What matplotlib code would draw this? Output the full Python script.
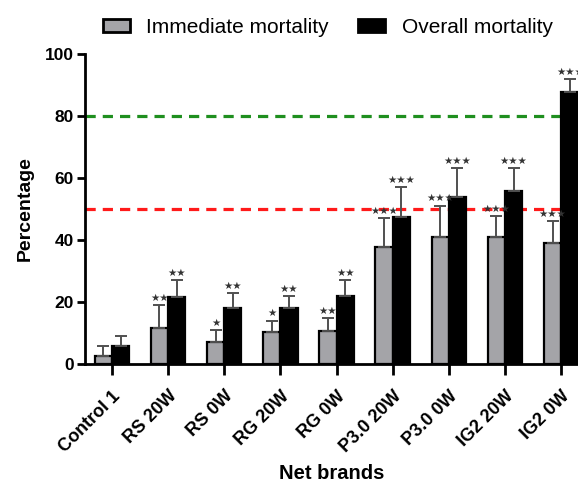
import matplotlib
matplotlib.use("Agg")
import matplotlib.pyplot as plt
import numpy as np
from matplotlib.patches import Patch

categories = ["Control 1", "RS 20W", "RS 0W", "RG 20W", "RG 0W",
              "P3.0 20W", "P3.0 0W", "IG2 20W", "IG2 0W"]
immediate = [2.6, 11.5, 7.2, 10.3, 10.5, 37.8, 40.9, 40.9, 38.9]
immediate_err = [3.3, 7.5, 3.7, 3.7, 4.4, 9.3, 10.2, 6.9, 7.2]
overall = [5.9, 21.7, 18.0, 18.0, 22.0, 47.3, 53.8, 55.7, 87.6]
overall_err = [3.1, 5.4, 5.0, 4.0, 5.1, 9.9, 9.3, 7.4, 4.4]
immediate_sig = ["", "**", "*", "*", "**", "***", "***", "***", "***"]
overall_sig = ["", "**", "**", "**", "**", "***", "***", "***", "***"]
thresholds = [80, 50]

plt.rcParams['font.family'] = ['Liberation Sans', 'DejaVu Sans']

fig = plt.figure(figsize=(5.78, 4.86), dpi=100)
ax = fig.add_axes([85/578, (486-364)/486, 1-85/578, 310/486])

x = np.arange(len(categories))
w = 0.307
gray = '#a4a4a8'

ax.axhline(thresholds[0], color='#1f8f1f', lw=2.3, ls=(0, (3.2, 2.2)), zorder=1)
ax.axhline(thresholds[1], color='#ff1a1a', lw=2.3, ls=(0, (3.2, 2.2)), zorder=1)

ax.bar(x - w/2, immediate, w, color=gray, edgecolor='black', linewidth=1.6, zorder=2)
ax.bar(x + w/2, overall, w, color='black', edgecolor='black', linewidth=1.6, zorder=2)

ax.errorbar(x - w/2, immediate, yerr=[np.zeros(len(x)), immediate_err], fmt='none',
            ecolor='#505050', elinewidth=1.4, capsize=4.5, capthick=1.4, zorder=3)
ax.errorbar(x + w/2, overall, yerr=[np.zeros(len(x)), overall_err], fmt='none',
            ecolor='#505050', elinewidth=1.4, capsize=4.5, capthick=1.4, zorder=3)

for xi, v, e, s in zip(x - w/2, immediate, immediate_err, immediate_sig):
    if s:
        ax.text(xi, v + e + 0.7, '\u2605' * len(s), ha='center', va='bottom',
                fontsize=7.5, color='#333333', family='DejaVu Sans', zorder=4)
for xi, v, e, s in zip(x + w/2, overall, overall_err, overall_sig):
    if s:
        ax.text(xi, v + e + 0.7, '\u2605' * len(s), ha='center', va='bottom',
                fontsize=7.5, color='#333333', family='DejaVu Sans', zorder=4)

ax.set_xlim(-0.48, 8.30)
ax.set_ylim(0, 100)
ax.set_yticks([0, 20, 40, 60, 80, 100])
ax.set_xticks(x)
ax.set_xticklabels(categories, rotation=45, ha='right', rotation_mode='anchor',
                   fontsize=13, fontweight='bold')
for lab in ax.get_yticklabels():
    lab.set_fontsize(12.5)
    lab.set_fontweight('bold')

for sp in ['top', 'right']:
    ax.spines[sp].set_visible(False)
for sp in ['left', 'bottom']:
    ax.spines[sp].set_linewidth(2)
ax.tick_params(axis='y', width=2, length=6, direction='out', pad=2)
ax.tick_params(axis='x', width=2, length=8, direction='out', pad=9)

ax.set_ylabel('Percentage', fontsize=14, fontweight='bold', labelpad=8)
ax.set_xlabel('Net brands', fontsize=14.5, fontweight='bold', labelpad=6)

handles = [Patch(facecolor=gray, edgecolor='black', linewidth=2),
           Patch(facecolor='black', edgecolor='black', linewidth=2)]
fig.legend(handles, ['Immediate mortality', 'Overall mortality'], loc='center',
           bbox_to_anchor=(0.567, 0.944), ncol=2, frameon=False, fontsize=15,
           handlelength=1.3, handleheight=0.6, handletextpad=0.8, columnspacing=1.4)

fig.savefig('out.png', dpi=100)
